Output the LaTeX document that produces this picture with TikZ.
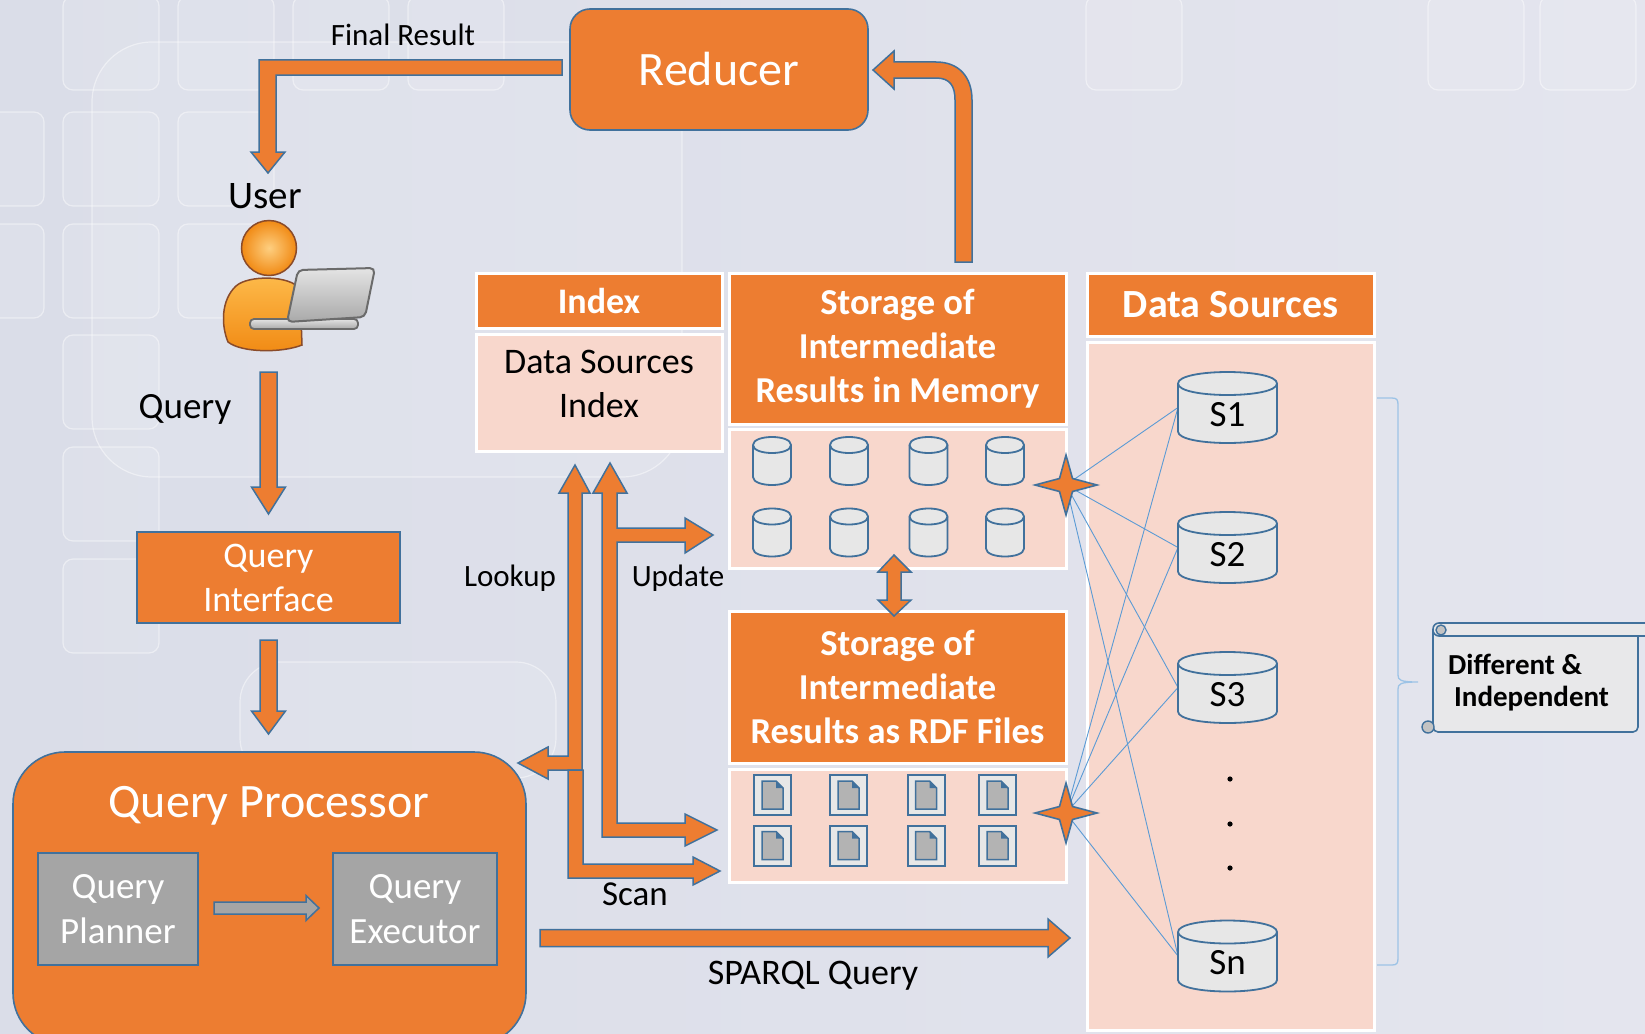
\documentclass[tikz,border=0pt]{standalone}
\usepackage{fontspec}
\setmainfont{Carlito}
\usetikzlibrary{calc}

\definecolor{orng}{HTML}{ED7D31}
\definecolor{bordb}{HTML}{41719C}
\definecolor{pinkc}{HTML}{F8D7CC}
\definecolor{cylf}{HTML}{E7E7E7}
\definecolor{docf}{HTML}{B3B3B3}
\definecolor{grayb}{HTML}{A5A5A5}
\definecolor{linkb}{HTML}{5B9BD5}
\definecolor{braceb}{HTML}{9DC3E6}
\definecolor{bgA}{HTML}{DADDE8}
\definecolor{bgB}{HTML}{E4E5EE}
\definecolor{scrollf}{HTML}{E8E8EA}
\definecolor{skinA}{HTML}{FDBA4A}
\definecolor{skinB}{HTML}{F18A14}
\definecolor{skinL}{HTML}{8A4B2A}
\definecolor{lapA}{HTML}{E4E4E4}
\definecolor{lapB}{HTML}{A9A9A9}
\definecolor{lapL}{HTML}{6B6B6B}

% straight block arrow: [style]{from}{tip}{half band}{half head}{head length}
\newcommand\blockarrow[6][barrow]{%
  \coordinate (ba-neck) at ($(#3)!#6!(#2)$);
  \draw[#1] ($(#2)!#4!90:(#3)$) -- ($(ba-neck)!#4!90:(#3)$) -- ($(ba-neck)!#5!90:(#3)$) -- (#3)
    -- ($(ba-neck)!#5!-90:(#3)$) -- ($(ba-neck)!#4!-90:(#3)$) -- ($(#2)!#4!-90:(#3)$) -- cycle;}

% database cylinder around a named slot node: {node}{ellipse half height}
\newcommand\dbshape[2]{%
  \draw[cyl] ($(#1.north west)+(0,#2)$) -- ($(#1.south west)+(0,-#2)$)
    .. controls ($(#1.south west)+(0,{0.333*#2})$) and ($(#1.south east)+(0,{0.333*#2})$) .. ($(#1.south east)+(0,-#2)$)
    -- ($(#1.north east)+(0,#2)$)
    .. controls ($(#1.north east)+(0,{-0.333*#2})$) and ($(#1.north west)+(0,{-0.333*#2})$) .. ($(#1.north west)+(0,#2)$) -- cycle;
  \draw[cylline] ($(#1.north west)+(0,#2)$) .. controls ($(#1.north west)+(0,{2.333*#2})$) and ($(#1.north east)+(0,{2.333*#2})$) .. ($(#1.north east)+(0,#2)$);}

% file icon inside a named slot node
\newcommand\docicon[1]{%
  \draw[docframe] (#1.north west) rectangle (#1.south east);
  \draw[docpage] ($(#1.north west)+(8,6)$) -- ($(#1.north east)+(-15,6)$) -- ($(#1.north east)+(-8,13)$)
    -- ($(#1.south east)+(-8,-6)$) -- ($(#1.south west)+(8,-6)$) -- cycle;
  \fill[bordb] ($(#1.north east)+(-15,6)$) -- ($(#1.north east)+(-15,13)$) -- ($(#1.north east)+(-8,13)$) -- cycle;}

% four-pointed star centred on a named coordinate
\newcommand\sparkle[1]{%
  \draw[sparkst] ($(#1)+(31,0)$) -- ($(#1)+(6.5,-6.5)$) -- ($(#1)+(0,-30)$) -- ($(#1)+(-6.5,-6.5)$)
    -- ($(#1)+(-31,0)$) -- ($(#1)+(-6.5,6.5)$) -- ($(#1)+(0,30)$) -- ($(#1)+(6.5,6.5)$) -- cycle;}

\begin{document}
\begin{tikzpicture}[x=1pt,y=-1pt,
  box/.style={draw=bordb, line width=1.6pt, fill=orng, text=white, inner sep=0pt, outer sep=0pt},
  hcell/.style={fill=orng, draw=white, line width=3pt, text=white, align=center, inner sep=0pt, outer sep=0pt,
    font=\bfseries\fontsize{36.5}{44}\selectfont},
  bcell/.style={fill=pinkc, draw=white, line width=3pt, inner sep=0pt, outer sep=0pt},
  gbox/.style={draw=bordb, line width=1.6pt, fill=grayb, text=white, align=center, inner sep=0pt, outer sep=0pt,
    font=\fontsize{37}{45}\selectfont},
  lbl/.style={text=black, inner sep=0pt},
  barrow/.style={fill=orng, draw=bordb, line width=1.5pt, line join=miter},
  garrow/.style={fill=grayb, draw=bordb, line width=1.5pt, line join=miter},
  cyl/.style={fill=cylf, draw=bordb, line width=1.8pt},
  cylline/.style={draw=bordb, line width=1.8pt},
  dbslot/.style={inner sep=0pt, outer sep=0pt, minimum width=38pt, minimum height=48pt},
  srcslot/.style={inner sep=0pt, outer sep=0pt, minimum width=99pt, minimum height=71pt},
  docslot/.style={inner sep=0pt, outer sep=0pt, minimum width=37pt, minimum height=40pt},
  docframe/.style={fill=cylf, draw=bordb, line width=2pt},
  docpage/.style={fill=docf, draw=bordb, line width=1.5pt},
  sparkst/.style={fill=orng, draw=bordb, line width=1.6pt, line join=miter},
  link/.style={draw=linkb, line width=0.9pt},
  tile/.style={draw=white, draw opacity=0.45, line width=1.2pt, fill=white, fill opacity=0.10, rounded corners=10pt},
  scrollst/.style={fill=scrollf, draw=bordb, line width=1.6pt},
]
\useasboundingbox (0,0) rectangle (1645,1033);
\clip (0,0) rectangle (1645,1033);

% backdrop
\shade[left color=bgA, right color=bgB] (0,0) rectangle (1645,1033);
\foreach \y in {-4,112,224,335,447,559} {\draw[tile] (63,\y) rectangle ++(96,94);}
\foreach \y in {112,224} {\draw[tile] (-52,\y) rectangle ++(96,94);}
\foreach \y in {-4,112,224} {\draw[tile] (178,\y) rectangle ++(96,94);}
\foreach \x in {293,408,1086,1428,1540} {\draw[tile] (\x,-4) rectangle ++(96,94);}
\draw[tile, rounded corners=60pt] (92,42) rectangle (682,477);
\draw[tile, rounded corners=40pt] (240,662) rectangle (556,778);

% main blocks
\node[box, rounded corners=20pt, minimum width=298pt, minimum height=121pt,
  font=\fontsize{48}{58}\selectfont] (reducer) at (719,69.5) {Reducer};
\node[box, minimum width=263pt, minimum height=91pt, align=center,
  font=\fontsize{36}{44}\selectfont] (qi) at (268.5,577.5) {Query\\Interface};
\node[box, rounded corners=52pt, minimum width=513pt, minimum height=293pt] (qp) at (269.5,898.5) {};
\node[text=white, inner sep=0pt, font=\fontsize{48}{58}\selectfont] (qptitle) at (269,806) {Query Processor};
\node[gbox, minimum width=160pt, minimum height=112pt] (planner) at (118,909) {Query\\Planner};
\node[gbox, minimum width=164pt, minimum height=112pt] (executor) at (415,909) {Query\\Executor};

% index table
\node[hcell, minimum width=246pt, minimum height=55pt, font=\bfseries\fontsize{36}{44}\selectfont] (idxhead) at (599,300.5) {Index};
\node[bcell, minimum width=246pt, minimum height=117pt] (idxbody) at (599,392.5) {};
\node[lbl, align=center, font=\fontsize{36}{44}\selectfont] (idxtext) at (599,384) {Data Sources\\Index};

% intermediate result stores
\node[hcell, minimum width=337pt, minimum height=151pt] (memhead) at (897.5,348.5) {Storage of\\Intermediate\\Results in Memory};
\node[bcell, minimum width=337pt, minimum height=139pt] (membody) at (897.5,498.5) {};
\node[hcell, minimum width=337pt, minimum height=152pt] (rdfhead) at (897.5,687) {Storage of\\Intermediate\\Results as RDF Files};
\node[bcell, minimum width=337pt, minimum height=113pt] (rdfbody) at (897.5,825.5) {};

% data sources column
\node[hcell, minimum width=287pt, minimum height=63pt, font=\bfseries\fontsize{40}{48}\selectfont] (dshead) at (1230.5,304.5) {Data Sources};
\node[bcell, minimum width=287pt, minimum height=688pt] (dsbody) at (1230.5,686) {};

% in-memory stores
\foreach \x [count=\i] in {772,849,928.5,1005} {
  \node[dbslot] (ma\i) at (\x,461) {}; \dbshape{ma\i}{8}
  \node[dbslot] (mb\i) at (\x,532.5) {}; \dbshape{mb\i}{8}
}
% RDF files
\foreach \x [count=\i] in {772.5,848.5,926,997.5} {
  \node[docslot] (da\i) at (\x,795) {}; \docicon{da\i}
  \node[docslot] (db\i) at (\x,845.5) {}; \docicon{db\i}
}

% sources
\node[srcslot] (s1) at (1227.5,407.5) {};
\node[srcslot] (s2) at (1227.5,547.5) {};
\node[srcslot] (s3) at (1227.5,687.5) {};
\node[srcslot] (sn) at (1227.5,956) {};
\coordinate (st1) at (1066,485);
\coordinate (st2) at (1066,813);
\foreach \s in {s1,s2,s3,sn} {
  \draw[link] (st1) -- (\s.west);
  \draw[link] (st2) -- (\s.west);
}
\foreach \s in {s1,s2,s3,sn} {\dbshape{\s}{11.5}}
\node[lbl, font=\fontsize{37}{44}\selectfont] (s1t) at ($(s1)+(0,7)$) {S1};
\node[lbl, font=\fontsize{37}{44}\selectfont] (s2t) at ($(s2)+(0,7)$) {S2};
\node[lbl, font=\fontsize{37}{44}\selectfont] (s3t) at ($(s3)+(0,7)$) {S3};
\node[lbl, font=\fontsize{37}{44}\selectfont] (snt) at ($(sn)+(0,7)$) {Sn};
\foreach \y in {779,824,868} {\fill[black] (1230,\y) circle[radius=2.6pt];}
\sparkle{st1}
\sparkle{st2}

% result path back to the user
\draw[barrow] (562,60) -- (259,60) -- (259,152) -- (251,152) -- (268,173) -- (285,152) -- (276,152) -- (276,75) -- (562,75) -- cycle;
\draw[barrow] (955,262) -- (955,100) .. controls (955,86) and (950,78) .. (936,78) -- (894,78) -- (894,89) -- (873,70)
  -- (894,51) -- (894,62) -- (936,62) .. controls (959,62) and (972,77) .. (972,100) -- (972,262) -- cycle;

% query flow
\coordinate (q-from) at ($(qi.north)+(0,-160)$);
\coordinate (q-to) at ($(qi.north)+(0,-18)$);
\blockarrow{q-from}{q-to}{8.5pt}{17pt}{27pt}
\coordinate (qq-from) at ($(qi.south)+(0,17)$);
\coordinate (qq-to) at ($(qi.south |- qp.north)+(0,-18)$);
\blockarrow{qq-from}{qq-to}{8.5pt}{17pt}{23pt}
\coordinate (pe-from) at ($(planner.east)+(16,-1)$);
\coordinate (pe-to) at ($(executor.west)+(-14,-1)$);
\blockarrow[garrow]{pe-from}{pe-to}{6pt}{12.5pt}{13pt}
\coordinate (sp-from) at ($(qp.east)+(14,39.5)$);
\coordinate (sp-to) at ($(dsbody.west |- sp-from)+(-17,0)$);
\blockarrow{sp-from}{sp-to}{8.5pt}{19pt}{22pt}

% lookup, scan and update
\draw[barrow] (582,770) -- (582,493) -- (590,493) -- (575,465) -- (559,493) -- (568,493) -- (568,756) -- (548,756)
  -- (548,747) -- (518,763) -- (548,779) -- (548,770) -- cycle;
\draw[barrow] (568,770) -- (568,878) -- (693,878) -- (693,885) -- (720,871) -- (693,857) -- (693,864) -- (583,864) -- (583,770) -- cycle;
\draw[barrow] (602,837) -- (685,837) -- (685,846) -- (717,830) -- (685,814) -- (685,823) -- (617,823) -- (617,542)
  -- (685,542) -- (685,553) -- (713,535) -- (685,518) -- (685,528) -- (617,528) -- (617,493) -- (627,493)
  -- (610,463) -- (593,493) -- (602,493) -- cycle;
% exchange between the two stores
\draw[barrow] (887,572) -- (887,600) -- (878,600) -- (894,616) -- (911,600) -- (901,600) -- (901,572) -- (911,572)
  -- (894,555) -- (878,572) -- cycle;

% free labels
\node[lbl, font=\fontsize{31}{36}\selectfont] (finalres) at (403,35) {Final Result};
\node[lbl, font=\fontsize{39}{46}\selectfont] (userlbl) at (265,196) {User};
\node[lbl, font=\fontsize{37}{44}\selectfont] (querylbl) at (185,409) {Query};
\node[lbl, font=\fontsize{31}{36}\selectfont] (lookuplbl) at (510,578) {Lookup};
\node[lbl, font=\fontsize{31}{36}\selectfont] (updatelbl) at (678,578) {Update};
\node[lbl, font=\fontsize{35}{40}\selectfont] (scanlbl) at (635,894) {Scan};
\node[lbl, font=\fontsize{36}{42}\selectfont] (sparqllbl) at (813,976) {SPARQL Query};

% user with laptop
\coordinate (usericon) at (290,300);
\draw[skinL, line width=1.5pt, top color=skinA, bottom color=skinB]
  (228,342) .. controls (221,325) and (221,300) .. (236,286) .. controls (248,275) and (290,275) .. (300,289)
  -- (302,345) .. controls (282,353) and (242,353) .. (228,342) -- cycle;
\draw[skinL, line width=1.5pt, inner color=skinA!70!white, outer color=skinB] (269,248) circle[radius=27.5pt];
\draw[lapL, line width=1.8pt, top color=lapA, bottom color=lapB, rounded corners=4pt] (250,319) rectangle (358,329);
\draw[lapL, line width=2pt, top color=lapA, bottom color=lapB, rounded corners=5pt]
  (298,270) -- (375,268) -- (365,317) -- (287,322) -- cycle;

% brace grouping the sources
\draw[braceb, line width=1.3pt] (1377,398) -- (1392,398) .. controls (1397,398) and (1398,400) .. (1398,405) -- (1398,675)
  .. controls (1398,680) and (1400,682) .. (1418,682) .. controls (1400,682) and (1398,684) .. (1398,689) -- (1398,958)
  .. controls (1398,963) and (1397,965) .. (1392,965) -- (1377,965);

% scroll note
\fill[scrollf] (1433,630) rectangle (1638,732);
\draw[bordb, line width=1.6pt, rounded corners=5pt] (1433,630) -- (1433,732) -- (1638,732) -- (1638,630);
\draw[scrollst, rounded corners=6pt] (1433,623) rectangle (1665,636);
\draw[bordb, line width=1.4pt, fill=lapB!70!white] (1441,630) circle[radius=5pt];
\draw[bordb, line width=1.4pt, fill=lapB!70!white] (1428,727) circle[radius=6pt];
\node[lbl, anchor=west, font=\bfseries\fontsize{29}{35}\selectfont] (diff1) at (1448,664) {Different \&};
\node[lbl, anchor=west, font=\bfseries\fontsize{29}{35}\selectfont] (diff2) at (1454,699) {Independent};
\end{tikzpicture}
\end{document}
